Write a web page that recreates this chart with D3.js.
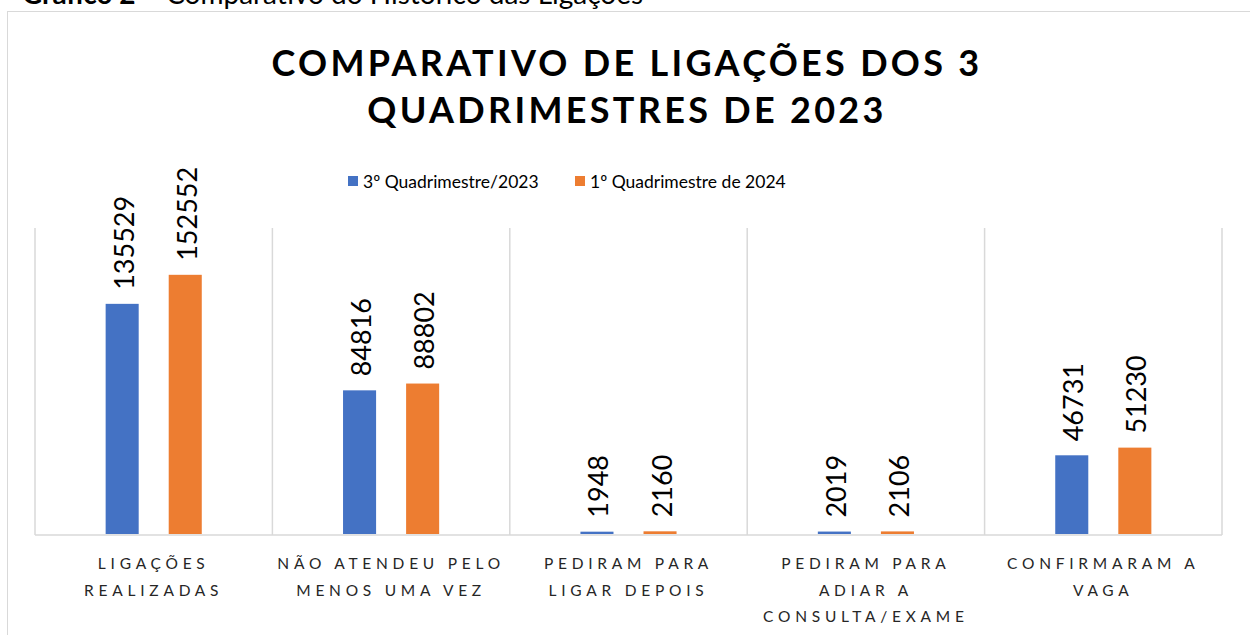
<!DOCTYPE html>
<html>
<head>
<meta charset="utf-8">
<script src="https://cdn.jsdelivr.net/npm/d3@7"></script>
<style>
  html, body { margin: 0; padding: 0; background: #fff; }
  svg { display: block; font-family: Lato, "Open Sans", sans-serif; }
</style>
</head>
<body>
<svg id="chart" width="1250" height="635"></svg>
<script>
// chart data
const categories = [
  ['LIGAÇÕES', 'REALIZADAS'],
  ['NÃO ATENDEU PELO', 'MENOS UMA VEZ'],
  ['PEDIRAM PARA', 'LIGAR DEPOIS'],
  ['PEDIRAM PARA', 'ADIAR A', 'CONSULTA/EXAME'],
  ['CONFIRMARAM A', 'VAGA'],
]
const seriesNames = ['3º Quadrimestre/2023', '1º Quadrimestre de 2024']
const values2023 = [135529, 84816, 1948, 2019, 46731]
const values2024 = [152552, 88802, 2160, 2106, 51230]
const titleLines = ['COMPARATIVO DE LIGAÇÕES DOS 3', 'QUADRIMESTRES DE 2023']
const yMax = 180000

const colors = ['#4472C4', '#ED7D31']
const svg = d3.select('#chart')

// NOTE: caption above the chart frame, mostly cut off
const caption = svg.append('text').attr('x', 22).attr('y', 4)
  .attr('font-size', 28).attr('fill', '#000')
caption.append('tspan').attr('font-weight', 'bold').text('Gráfico 2')
caption.append('tspan').text(' – Comparativo do Histórico das Ligações')

// NOTE: chart frame
svg.append('rect')
  .attr('x', 7.5).attr('y', 11.5)
  .attr('width', 1260).attr('height', 640)
  .attr('fill', '#fff').attr('stroke', '#d9d9d9')

// NOTE: title
svg.append('g').selectAll('text')
  .data(titleLines)
  .join('text')
  .attr('x', 627)
  .attr('y', (d, i) => 76 + i * 47)
  .attr('text-anchor', 'middle')
  .attr('font-size', 36)
  .attr('font-weight', 'bold')
  .attr('letter-spacing', 3.3)
  .attr('fill', '#000')
  .text(d => d)

// NOTE: legend
const legendX = [348, 575]
const legend = svg.append('g').selectAll('g')
  .data(seriesNames)
  .join('g')
  .attr('transform', (d, i) => `translate(${legendX[i]},0)`)
legend.append('rect')
  .attr('x', 0).attr('y', 176).attr('width', 10).attr('height', 10)
  .attr('fill', (d, i) => colors[i])
legend.append('text')
  .attr('x', 15).attr('y', 188)
  .attr('font-size', 17.5).attr('fill', '#000')
  .text(d => d)

// NOTE: scales
const plotLeft = 35, plotRight = 1222, plotTop = 228, plotBottom = 535
const x0 = d3.scaleBand()
  .domain(d3.range(categories.length))
  .range([plotLeft, plotRight])
const x1 = d3.scaleBand()
  .domain([0, 1])
  .range([0, x0.bandwidth()])
  .paddingInner(0.476)
  .paddingOuter(1.12)
const y = d3.scaleLinear().domain([0, yMax]).range([plotBottom, plotTop])

// NOTE: category separators + baseline
const plot = svg.append('g')
plot.selectAll('line.sep')
  .data(d3.range(categories.length + 1))
  .join('line')
  .attr('class', 'sep')
  .attr('x1', i => plotLeft + i * x0.step())
  .attr('x2', i => plotLeft + i * x0.step())
  .attr('y1', plotTop).attr('y2', plotBottom)
  .attr('stroke', '#d9d9d9').attr('stroke-width', 1.5)
plot.append('line')
  .attr('x1', plotLeft).attr('x2', plotRight)
  .attr('y1', plotBottom).attr('y2', plotBottom)
  .attr('stroke', '#d9d9d9').attr('stroke-width', 1.5)

// NOTE: bars and labels
const rows = categories.map((c, i) => [values2023[i], values2024[i]])
const groups = plot.selectAll('g.cat')
  .data(rows)
  .join('g')
  .attr('class', 'cat')
  .attr('transform', (d, i) => `translate(${x0(i)},0)`)

groups.selectAll('rect')
  .data(d => d)
  .join('rect')
  .attr('x', (d, j) => x1(j))
  .attr('width', x1.bandwidth())
  .attr('y', d => y(d))
  .attr('height', d => plotBottom - 1 - y(d))
  .attr('fill', (d, j) => colors[j])

groups.selectAll('text')
  .data(d => d)
  .join('text')
  .attr('transform', (d, j) =>
    `translate(${x1(j) + x1.bandwidth() / 2 + 1},${y(d) - 14}) rotate(-90)`)
  .attr('dominant-baseline', 'central')
  .attr('font-size', 27)
  .attr('fill', '#000')
  .text(d => d)

// NOTE: category labels
const axisLabels = svg.append('g').selectAll('text')
  .data(categories)
  .join('text')
  .attr('x', (d, i) => x0(i) + x0.bandwidth() / 2)
  .attr('y', 569)
  .attr('text-anchor', 'middle')
  .attr('font-size', 15.5)
  .attr('letter-spacing', 4.75)
  .attr('fill', '#262626')
axisLabels.selectAll('tspan')
  .data(d => d)
  .join('tspan')
  .attr('x', function () { return d3.select(this.parentNode).attr('x') })
  .attr('dy', (d, i) => i === 0 ? 0 : 26.5)
  .text(d => d)
</script>
</body>
</html>
